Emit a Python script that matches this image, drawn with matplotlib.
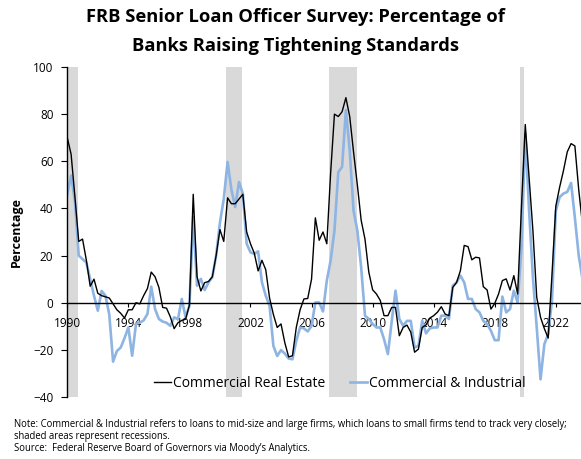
import matplotlib
matplotlib.use("Agg")
import matplotlib.pyplot as plt

plt.rcParams['font.family'] = ['Open Sans', 'DejaVu Sans']

# Quarterly survey readings (net % of banks tightening), first quarter labelled 1990
cre = [70, 63, 45, 26, 27, 18, 7, 10, 4, 3, 2.5, 2, -0.5, -3, -4.5, -6.5,
       -3, -3, 0, -0.5, 3, 6, 13, 11, 6.5, -2, -2.3, -6, -11, -8.5, -7.5, -7,
       -1, 46, 11, 5, 8.5, 9, 11, 20, 31, 26, 44.5, 42, 42, 44, 46, 30,
       25, 21, 13.5, 18, 14, 2, -5, -10.5, -9, -17, -23, -22.5, -10.5, -3, 1.6, 1.8,
       10, 36, 26.5, 30, 25, 55, 80, 79, 81, 87, 79, 64, 50, 35, 27, 13,
       5.5, 3.7, 1, -5.5, -5.5, -2, -2, -14, -10.5, -9.5, -12.5, -21, -19.7, -10.5, -9.4, -6.5,
       -5.5, -4, -1.7, -4.8, -5.5, 6.5, 8.6, 13.6, 24.3, 23.8, 18.2, 19.3, 19, 6.8, 5.4, -2.7,
       -0.3, 3.7, 9.4, 10.1, 5.4, 11.5, 3.7, 40.6, 75.6, 53.3, 30.6, 2.3, -6.2, -11, -15, 12,
       41, 49, 56, 64, 67.5, 66.5, 48, 33]

cni = [46, 54, 43, 20, 18.5, 17, 10, 3, -3.4, 5, 3, -5, -25, -20.5, -19, -15,
       -10.5, -22.5, -9, -8.5, -7.5, -4.8, 6.8, -2.7, -6.9, -8, -8.5, -9.8, -6.2, -7, 1.6, -6.2,
       -1.3, 36.3, 7.2, 10.1, 5.4, 8.6, 10.8, 20, 34, 44, 59.7, 48, 40.6, 51.2, 46.3, 25,
       21.4, 20.7, 21.8, 8.6, 3, -1.3, -18.3, -22.6, -20.1, -21.6, -23.7, -24, -16.2, -10.5, -10.9, -12.2,
       -9.8, 0.1, 0.1, -3.7, 9.4, 17.9, 30.6, 55.4, 57.6, 81.7, 64.7, 39.1, 30.6, 15, -5.5, -6.9,
       -9, -10.5, -10.5, -15.5, -21.8, -8, 5.1, -6.9, -9.8, -7.7, -7.7, -19, -18.3, -7.7, -13, -10.9,
       -10.5, -10.5, -5.5, -5.5, -6.9, 7.2, 8.6, 11.5, 8.6, 1.6, 1.6, -2.7, -4.1, -7.7, -9.1, -11.9,
       -15.9, -15.9, 2.6, -4.1, -2.7, 5.1, 0.1, 23.5, 71.8, 39.1, 10.8, -10.5, -32.5, -17.6, -13.3, 0.9,
       39, 44.8, 46.3, 47, 50.8, 36, 20, 10]

# Recession spans on the quarter index
rec_start = [-0.5, 41.7, 68.7, 118.6]
rec_end = [2.8, 45.8, 75.8, 119.7]

tick_labels = ['1990', '1994', '1998', '2002', '2006', '2010', '2014', '2018', '2022']
series_names = ['Commercial Real Estate', 'Commercial & Industrial']

fig = plt.figure(figsize=(5.81, 4.59), dpi=100)
ax = fig.add_axes([0.1158, 0.1351, 0.8842, 0.7189])

for s, e in zip(rec_start, rec_end):
    ax.axvspan(s, e, color='#D9D9D9', lw=0, zorder=0)

q = list(range(len(cre)))
ax.plot(q, cre, color='black', lw=1.0, label=series_names[0], zorder=3)
ax.plot(q, cni, color='#8DB4E2', lw=1.9, label=series_names[1], zorder=2)

ax.set_xlim(0, 134.6)
ax.set_ylim(-40, 100)
ax.set_yticks(range(-40, 101, 20))
ax.set_xticks([16 * i for i in range(len(tick_labels))])
ax.set_xticklabels(tick_labels)

for side in ['top', 'right']:
    ax.spines[side].set_visible(False)
ax.spines['bottom'].set_position(('data', 0))
ax.spines['bottom'].set_linewidth(1.0)
ax.spines['left'].set_linewidth(1.0)
ax.spines['bottom'].set_zorder(4)

ax.tick_params(axis='y', direction='out', length=4, width=0.8, labelsize=8.5, pad=6)
ax.tick_params(axis='x', direction='out', length=3, width=0.8, labelsize=8.5, pad=7)

ax.set_ylabel('Percentage', fontsize=9, fontweight='bold', labelpad=7)

fig.text(0.508, 0.963, 'FRB Senior Loan Officer Survey: Percentage of',
         ha='center', va='center', fontsize=13.2, fontweight='bold')
fig.text(0.508, 0.900, 'Banks Raising Tightening Standards',
         ha='center', va='center', fontsize=13.2, fontweight='bold')

ax.legend(loc='center', bbox_to_anchor=(0.530, 0.042), ncol=2, frameon=False,
          fontsize=10, handlelength=1.2, handletextpad=0.15, columnspacing=1.8)

notes = [
    'Note: Commercial & Industrial refers to loans to mid-size and large firms, which loans to small firms tend to track very closely;',
    'shaded areas represent recessions.',
    'Source:  Federal Reserve Board of Governors via Moody\u2019s Analytics.',
]
for i, line in enumerate(notes):
    fig.text(0.024, 1 - (424 + 12.5 * i) / 459, line, ha='left', va='center', fontsize=6.85)

fig.savefig('out.png', dpi=100)
